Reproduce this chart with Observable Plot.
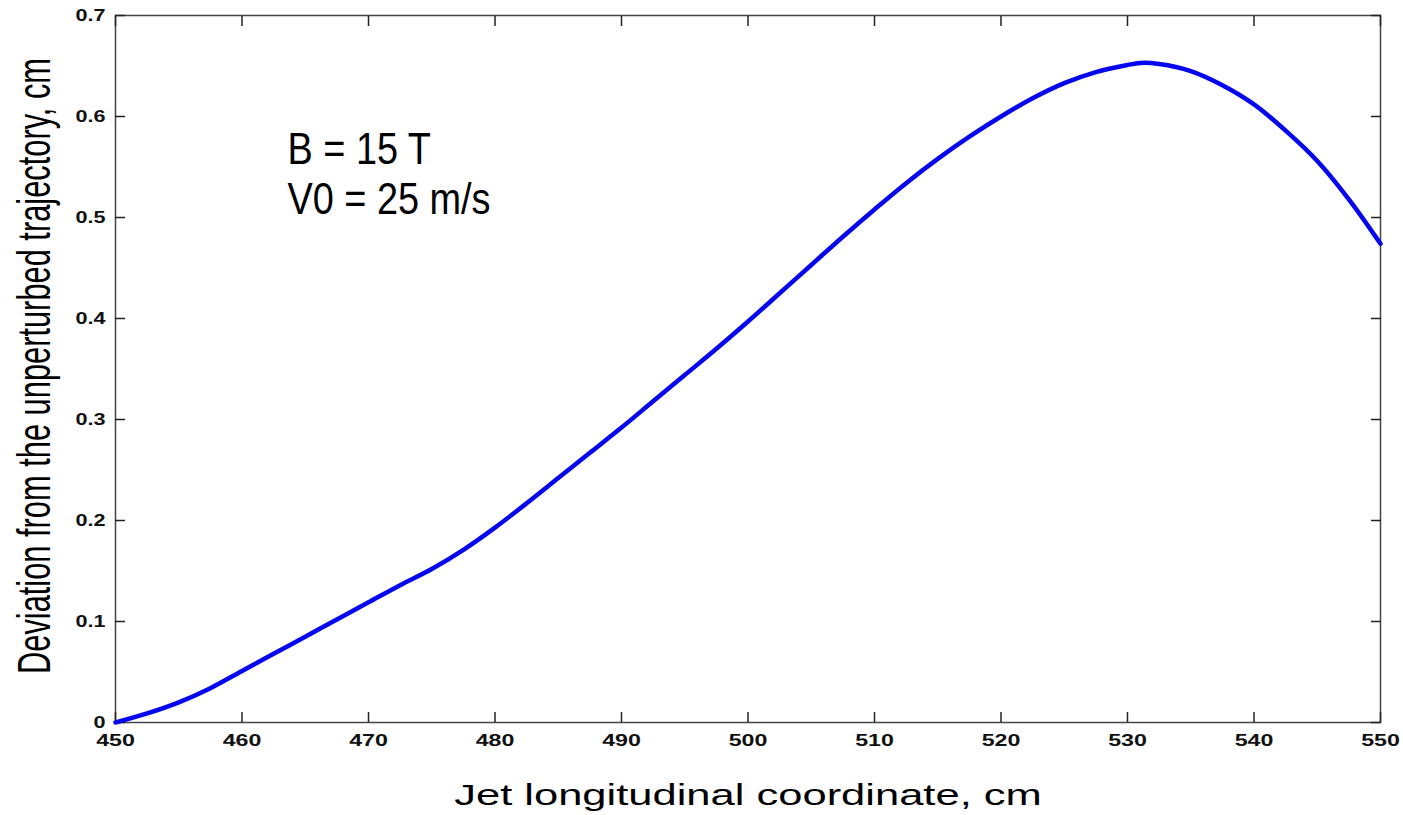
<!DOCTYPE html>
<html>
<head>
<meta charset="utf-8">
<script src="https://cdn.jsdelivr.net/npm/d3@7"></script>
<script src="https://cdn.jsdelivr.net/npm/@observablehq/plot@0.6"></script>
<style>
  html, body { margin: 0; padding: 0; background: #fff; }
  #chart svg { display: block; }
</style>
</head>
<body>
<div id="chart"></div>
<script>
// Data
const xCoord = [450, 452.5, 455, 457.5, 460, 462.5, 465, 467.5, 470, 472.5, 475, 477.5, 480,
  482.5, 485, 487.5, 490, 492.5, 495, 497.5, 500, 502.5, 505, 507.5, 510, 512.5, 515, 517.5,
  520, 522.5, 525, 527.5, 530, 531, 532.5, 535, 537.5, 540, 542.5, 545, 547.5, 550];
const deviation = [0, 0.009, 0.020, 0.034, 0.051, 0.068, 0.085, 0.102, 0.119, 0.136, 0.152, 0.171, 0.193,
  0.217, 0.242, 0.267, 0.292, 0.318, 0.344, 0.370, 0.397, 0.425, 0.453, 0.481, 0.508, 0.534, 0.558, 0.580,
  0.600, 0.618, 0.633, 0.644, 0.651, 0.653, 0.652, 0.645, 0.631, 0.612, 0.586, 0.556, 0.518, 0.474];
const xTicks = [450, 460, 470, 480, 490, 500, 510, 520, 530, 540, 550];
const yTicks = [0, 0.1, 0.2, 0.3, 0.4, 0.5, 0.6, 0.7];
const xLabel = "Jet longitudinal coordinate, cm";
const yLabel = "Deviation from the unperturbed trajectory, cm";
const notes = ["B = 15 T", "V0 = 25 m/s"];
const noteX = [463.6, 463.6];
const noteY = [0.553, 0.503];

const series = xCoord.map((x, i) => ({x, y: deviation[i]}));
const annots = notes.map((t, i) => ({t, x: noteX[i], y: noteY[i]}));

const sans = "'Liberation Sans', Arial, Helvetica, sans-serif";
const frameColor = "#444";

const chart = Plot.plot({
  width: 1403,
  height: 815,
  marginLeft: 115,
  marginRight: 23,
  marginTop: 15,
  marginBottom: 93,
  style: {background: "#fff", overflow: "visible"},
  x: {domain: [450, 550]},
  y: {domain: [0, 0.7]},
  marks: [
    Plot.frame({stroke: frameColor, strokeWidth: 1.5}),
    // inward ticks on all four sides
    Plot.axisX({anchor: "bottom", ticks: xTicks, tickSize: -10, tickFormat: () => "", label: null, stroke: "#222", strokeWidth: 1.5}),
    Plot.axisX({anchor: "top", ticks: xTicks, tickSize: -10, tickFormat: () => "", label: null, stroke: "#222", strokeWidth: 1.5}),
    Plot.axisY({anchor: "left", ticks: yTicks, tickSize: -10, tickFormat: () => "", label: null, stroke: "#222", strokeWidth: 1.5}),
    Plot.axisY({anchor: "right", ticks: yTicks, tickSize: -10, tickFormat: () => "", label: null, stroke: "#222", strokeWidth: 1.5}),
    // tick labels
    Plot.axisX({anchor: "bottom", ticks: xTicks, tickSize: 0, tickPadding: 12, tickFormat: d => String(d), label: null,
      fontSize: 16, fontWeight: "bold", fontFamily: sans, fill: "#111"}),
    Plot.axisY({anchor: "left", ticks: yTicks, tickSize: 0, tickPadding: 10, tickFormat: d => d === 0 ? "0" : d3.format(".1f")(d), label: null,
      fontSize: 16, fontWeight: "bold", fontFamily: sans, fill: "#111"}),
    // curve
    Plot.line(series, {x: "x", y: "y", stroke: "#0505ee", strokeWidth: 4.5, curve: "catmull-rom"}),
    // annotations
    Plot.text(annots, {x: "x", y: "y", text: "t", textAnchor: "start", lineAnchor: "bottom", fontSize: 44, fontFamily: sans, fill: "#000"}),
    // axis titles
    Plot.text([xLabel], {frameAnchor: "bottom", dy: 82, fontSize: 29, fontFamily: sans, fill: "#000"}),
    Plot.text([yLabel], {frameAnchor: "left", textAnchor: "middle", rotate: -90, dx: -80, dy: -3, fontSize: 46, fontFamily: sans, fill: "#000"})
  ]
});
document.getElementById("chart").appendChild(chart);

// The reference's lettering is horizontally stretched (Helvetica) or condensed (narrow face):
// emulate by scaling the real text along its writing direction.
function stretchEl(el, factor) {
  const len = el.getComputedTextLength();
  if (len > 0) {
    el.setAttribute("textLength", (len * factor).toFixed(1));
    el.setAttribute("lengthAdjust", "spacingAndGlyphs");
  }
}
chart.querySelectorAll("text").forEach(el => {
  const t = el.textContent;
  const group = el.parentNode && el.parentNode.getAttribute("aria-label") || "";
  if (t === xLabel) stretchEl(el, 1.5);
  else if (t === yLabel) {
    const tr = el.getAttribute("transform") || "";
    el.setAttribute("transform", tr + " scale(0.67,1)");
  }
  else if (notes.includes(t)) stretchEl(el, 0.86);
  else if (group.startsWith("x-axis")) stretchEl(el, 1.45);
  else if (group.startsWith("y-axis")) stretchEl(el, 1.35);
});
</script>
</body>
</html>
